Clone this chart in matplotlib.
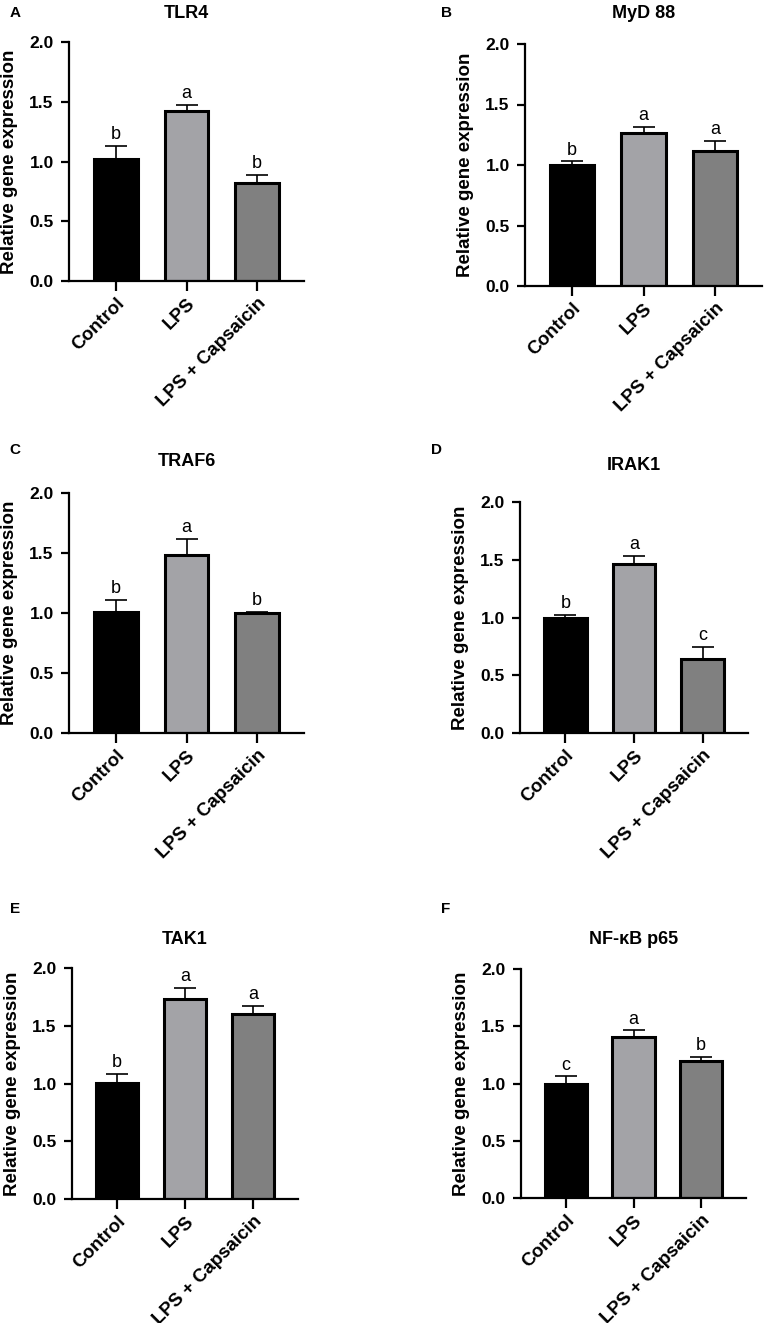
import matplotlib
matplotlib.use("Agg")
import matplotlib.pyplot as plt
import numpy as np

plt.rcParams['font.family'] = ['Liberation Sans', 'DejaVu Sans']

groups = ["Control", "LPS", "LPS + Capsaicin"]
bar_colors = ["#000000", "#a3a3a7", "#808080"]

titles = ["TLR4", "MyD 88", "TRAF6", "IRAK1", "TAK1", "NF-\u03baB p65"]
panel_tags = ["A", "B", "C", "D", "E", "F"]

tlr4_mean = [1.02, 1.42, 0.82]
tlr4_err = [0.11, 0.055, 0.065]
myd88_mean = [1.00, 1.265, 1.115]
myd88_err = [0.03, 0.05, 0.085]
traf6_mean = [1.01, 1.485, 1.00]
traf6_err = [0.10, 0.13, 0.012]
irak1_mean = [1.00, 1.465, 0.645]
irak1_err = [0.025, 0.07, 0.10]
tak1_mean = [1.005, 1.73, 1.60]
tak1_err = [0.078, 0.10, 0.075]
nfkb_mean = [1.00, 1.405, 1.195]
nfkb_err = [0.063, 0.058, 0.035]

means = [tlr4_mean, myd88_mean, traf6_mean, irak1_mean, tak1_mean, nfkb_mean]
errs = [tlr4_err, myd88_err, traf6_err, irak1_err, tak1_err, nfkb_err]
letters = [["b", "a", "b"], ["b", "a", "a"], ["b", "a", "b"],
           ["b", "a", "c"], ["b", "a", "a"], ["c", "a", "b"]]

W, H = 765, 1323
# axes boxes in pixels: left, top, right, bottom
boxes = [(69, 42, 304, 281), (525, 44, 762, 286),
         (69, 493, 304, 733), (520, 502, 748, 733),
         (72, 968, 298, 1199), (521, 969, 746, 1198)]
tag_pos = [(15, 13), (447, 13), (15, 450), (437, 450), (15, 909), (446, 909)]
title_gap = [29, 31, 32, 37, 29, 29]

fig = plt.figure(figsize=(W / 100, H / 100), dpi=100)

for i in range(6):
    l, t, r, b = boxes[i]
    ax = fig.add_axes([l / W, 1 - b / H, (r - l) / W, (b - t) / H])
    x = np.arange(len(groups))
    ax.errorbar(x, means[i], yerr=[np.zeros(3), errs[i]], fmt='none',
                ecolor='black', elinewidth=1.2, capsize=8, capthick=1.2, zorder=1)
    ax.bar(x, means[i], width=0.62, color=bar_colors, edgecolor='black',
           linewidth=2.2, zorder=2)
    for j in range(3):
        ax.annotate(letters[i][j], (x[j], means[i][j] + errs[i][j]),
                    xytext=(0, 2), textcoords='offset points',
                    ha='center', va='bottom', fontsize=13)
    ax.set_xlim(-0.66, 2.66)
    ax.set_ylim(0, 2.0)
    ax.set_yticks([0, 0.5, 1.0, 1.5, 2.0])
    ax.set_yticklabels(["0.0", "0.5", "1.0", "1.5", "2.0"], fontsize=12.5,
                       fontweight='bold')
    ax.set_xticks(x)
    ax.set_xticklabels(groups, rotation=45, ha='right', rotation_mode='anchor',
                       fontsize=13.5, fontweight='bold')
    ax.spines['top'].set_visible(False)
    ax.spines['right'].set_visible(False)
    ax.spines['left'].set_linewidth(1.6)
    ax.spines['bottom'].set_linewidth(1.6)
    ax.tick_params(axis='y', length=6, width=1.6, pad=5)
    ax.tick_params(axis='x', length=7, width=1.6, pad=3)
    ax.set_ylabel("Relative gene expression", fontsize=13.5, fontweight='bold')
    ax.yaxis.set_label_coords(-51 / (r - l), 0.5)
    ax.annotate(titles[i], (0.5, 1.0), xycoords='axes fraction',
                xytext=(0, title_gap[i] * 0.72), textcoords='offset points',
                ha='center', va='center', fontsize=13, fontweight='bold')
    fig.text(tag_pos[i][0] / W, 1 - tag_pos[i][1] / H, panel_tags[i],
             ha='center', va='center', fontsize=11, fontweight='bold')

fig.savefig("out.png", dpi=100)
